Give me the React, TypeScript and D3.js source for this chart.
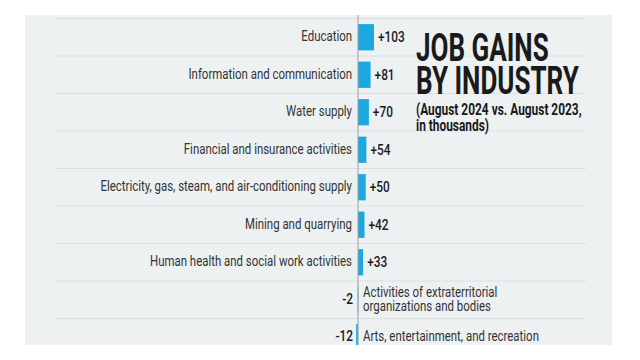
import React from "react";
import * as d3 from "d3";

const categories = [
  "Education",
  "Information and communication",
  "Water supply",
  "Financial and insurance activities",
  "Electricity, gas, steam, and air-conditioning supply",
  "Mining and quarrying",
  "Human health and social work activities",
  "Activities of extraterritorial organizations and bodies",
  "Arts, entertainment, and recreation",
];
const values = [103, 81, 70, 54, 50, 42, 33, -2, -12];
const negLabelLines: Record<string, string[]> = {
  "Activities of extraterritorial organizations and bodies": [
    "Activities of extraterritorial",
    "organizations and bodies",
  ],
};
const titleLines = ["JOB GAINS", "BY INDUSTRY"];
const subtitleLines = ["(August 2024 vs. August 2023,", " in thousands)"];

const W = 640;
const H = 360;
const SX = 0.8;
const FONT = "Roboto, 'Noto Sans', sans-serif";

export default function App() {
  const panel = { x: 25, y: 15, w: 587, h: 330 };
  const y = d3
    .scaleBand<string>()
    .domain(categories)
    .range([18.5, 18.5 + 37.5 * categories.length])
    .paddingInner(0.3)
    .paddingOuter(0.15);
  const step = y.step();
  const x = d3.scaleLinear().domain([0, 103]).range([358, 374]);
  const x0 = x(0);

  const sText = (
    tx: number,
    ty: number,
    content: string,
    opts: { anchor?: string; size?: number; weight?: number; fill?: string; sx?: number } = {}
  ) => (
    <text
      transform={`translate(${tx},${ty}) scale(${opts.sx ?? SX},1)`}
      textAnchor={opts.anchor ?? "start"}
      fontSize={opts.size ?? 14.3}
      fontWeight={opts.weight ?? 400}
      fill={opts.fill ?? "#333"}
      fontFamily={FONT}
      dominantBaseline="middle"
    >
      {content}
    </text>
  );

  return (
    <div style={{ position: "fixed", left: 0, top: 0, width: W, height: H, background: "#fff" }}>
      <svg width={W} height={H} style={{ display: "block" }}>
        <defs>
          <clipPath id="pc">
            <rect x={panel.x} y={panel.y} width={panel.w} height={panel.h} />
          </clipPath>
        </defs>
        <rect x={panel.x} y={panel.y} width={panel.w} height={panel.h} fill="#edf1f2" />
        <g clipPath="url(#pc)">
          {categories.map((c, i) => (
            <line
              key={"sep" + i}
              x1={55}
              x2={586}
              y1={18.5 + step * i}
              y2={18.5 + step * i}
              stroke="#dbe1e3"
              strokeWidth={1}
            />
          ))}
          {categories.map((c, i) => {
            const v = values[i];
            const by = y(c) as number;
            const bx = Math.min(x(v), x0);
            const bw = Math.max(Math.abs(x(v) - x0), 0.6);
            return (
              <rect key={"bar" + i} x={bx} y={by} width={bw} height={y.bandwidth()} fill="#1ba8e0" />
            );
          })}
          <line x1={x0} x2={x0} y1={panel.y} y2={panel.y + panel.h} stroke="#9aa0a3" strokeWidth={1} />
          {categories.map((c, i) => {
            const v = values[i];
            const cy = (y(c) as number) + y.bandwidth() / 2;
            if (v >= 0) {
              return (
                <g key={"lab" + i}>
                  {sText(x0 - 6, cy, c, { anchor: "end" })}
                  {sText(x(v) + 4, cy + 1, "+" + v, { weight: 500, fill: "#1a1a1a", size: 14.8 })}
                </g>
              );
            }
            const lines = negLabelLines[c] ?? [c];
            return (
              <g key={"lab" + i}>
                {sText(x0 - 5, cy, String(v), { anchor: "end", weight: 500, fill: "#1a1a1a", size: 14.8 })}
                {lines.map((l, k) => (
                  <g key={k}>{sText(x0 + 5, cy + (k - (lines.length - 1) / 2) * 14, l)}</g>
                ))}
              </g>
            );
          })}
        </g>
        {titleLines.map((t, k) => (
          <g key={"t" + k}>
            {sText(416, 51 + k * 33, t, { size: 38, weight: 700, fill: "#1a1a1a", sx: 0.685 })}
          </g>
        ))}
        {subtitleLines.map((t, k) => (
          <g key={"s" + k}>
            {sText(416, 111 + k * 16, t, { size: 16, weight: 700, fill: "#1a1a1a", sx: 0.745 })}
          </g>
        ))}
      </svg>
    </div>
  );
}
